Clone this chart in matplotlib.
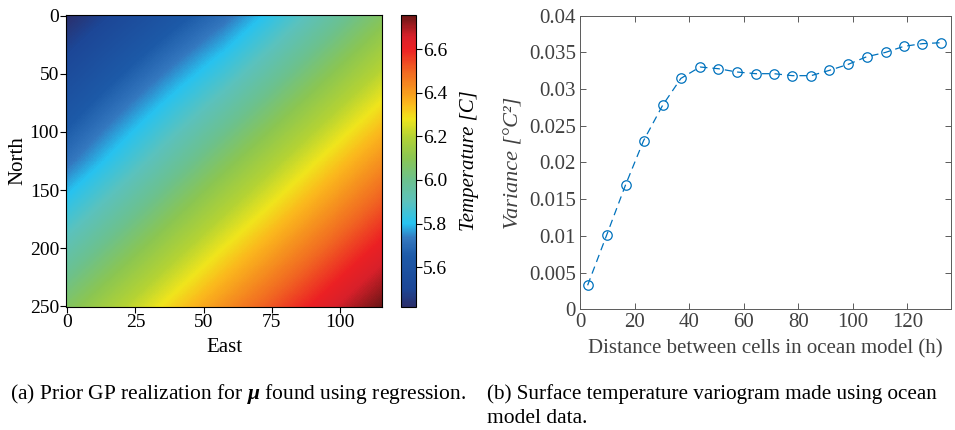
import numpy as np
import matplotlib
matplotlib.use("Agg")
import matplotlib.pyplot as plt
from matplotlib.colors import LinearSegmentedColormap

# ---- data ----
# (a) coarse temperature field (rows: north, cols: east), smoothed by imshow
north_pts = [0, 125, 250]
east_pts = [0, 57.5, 115]
temp_grid = [
    [5.42, 5.71, 6.07],
    [5.715, 6.07, 6.42],
    [6.07, 6.42, 6.75],
]
temp_ticks = [5.6, 5.8, 6.0, 6.2, 6.4, 6.6]
temp_min, temp_max = 5.417, 6.756

# (b) empirical variogram
dist_h = [2.8, 9.8, 16.7, 23.3, 30.3, 37.0, 44.0, 50.7, 57.5, 64.5,
          71.1, 77.9, 84.7, 91.4, 98.3, 105.1, 112.0, 118.7, 125.5, 132.3]
variance = [0.00327, 0.01013, 0.01694, 0.02297, 0.02779, 0.03146, 0.03301,
            0.03278, 0.03233, 0.0321, 0.0321, 0.03183, 0.03183, 0.03255,
            0.03337, 0.03441, 0.0350, 0.03582, 0.03619, 0.03632]

# colormap sampled from the colorbar
cmap_stops = [
    (0.000, "#2b2e6a"), (0.062, "#1c4797"), (0.174, "#1d5aa8"),
    (0.234, "#3478bf"), (0.286, "#27c3f0"), (0.361, "#5cc2bc"),
    (0.435, "#6cc18e"), (0.510, "#8bc652"), (0.585, "#b4d334"),
    (0.645, "#f0e51c"), (0.697, "#fbb81d"), (0.749, "#f6921f"),
    (0.809, "#f16622"), (0.884, "#ec2124"), (0.928, "#d8202a"),
    (1.000, "#6a1616"),
]
cmap = LinearSegmentedColormap.from_list("temp", cmap_stops)

plt.rcParams.update({
    "font.family": ["Liberation Serif", "DejaVu Serif"],
    "mathtext.fontset": "custom",
    "mathtext.rm": "Liberation Serif",
    "mathtext.it": "Liberation Serif:italic",
    "mathtext.bf": "Liberation Serif:italic:bold",
})

fig = plt.figure(figsize=(9.55, 4.3), dpi=100)

# ---- (a) GP realization ----
ax1 = fig.add_axes([0.0691, 0.286, 0.3309, 0.679])
dx = east_pts[1] - east_pts[0]
dy = north_pts[1] - north_pts[0]
im = ax1.imshow(np.array(temp_grid), cmap=cmap, vmin=temp_min, vmax=temp_max,
                interpolation="bilinear", interpolation_stage="data",
                extent=(east_pts[0] - dx / 2, east_pts[-1] + dx / 2,
                        north_pts[-1] + dy / 2, north_pts[0] - dy / 2),
                aspect="auto")
ax1.set_xlim(-0.5, 115.5)
ax1.set_ylim(250.5, -0.5)
ax1.set_xticks([0, 25, 50, 75, 100])
ax1.set_yticks([0, 50, 100, 150, 200, 250])
ax1.tick_params(labelsize=14, length=4, width=0.8, pad=1)
ax1.set_xlabel("East", fontsize=15, labelpad=5)
ax1.set_ylabel("North", fontsize=15, labelpad=2)

cax = fig.add_axes([0.4199, 0.286, 0.0157, 0.679])
cb = fig.colorbar(im, cax=cax, ticks=temp_ticks, format="%.1f")
cb.ax.tick_params(labelsize=14, length=4, width=0.8, pad=1)
cb.set_label("Temperature [C]", fontsize=15, style="italic", labelpad=9)
cb.outline.set_linewidth(0.8)

# ---- (b) variogram ----
gray = "#404040"
ax2 = fig.add_axes([0.6073, 0.2807, 0.3885, 0.6828])
ax2.plot(dist_h, variance, linestyle="--", dashes=(6, 4), marker="o",
         color="#0072BD", mfc="none", ms=6.8, mew=0.9, lw=0.9)
ax2.set_xlim(0, 136)
ax2.set_ylim(0, 0.04)
ax2.set_xticks([0, 20, 40, 60, 80, 100, 120])
yt = [0, 0.005, 0.01, 0.015, 0.02, 0.025, 0.03, 0.035, 0.04]
ax2.set_yticks(yt)
ax2.set_yticklabels([("%g" % v) for v in yt])
ax2.tick_params(direction="in", top=True, right=True, labelsize=15,
                length=4, width=0.6, colors=gray, labelcolor=gray, pad=3)
for s in ax2.spines.values():
    s.set_color("#5a5a5a")
    s.set_linewidth(0.7)
ax2.set_xlabel("Distance between cells in ocean model (h)", fontsize=15,
               color=gray, labelpad=5)
ax2.set_ylabel("Variance [°C²]", fontsize=16, style="italic", color=gray,
               labelpad=4)

# ---- captions ----
cap_size = 15.5
fig.text(0.0105, 0.072, r"(a) Prior GP realization for $\mathbf{\mu}$ found using regression.",
         fontsize=cap_size, va="baseline")
fig.text(0.51, 0.072, "(b) Surface temperature variogram made using ocean",
         fontsize=15.2, va="baseline")
fig.text(0.51, 0.016, "model data.", fontsize=cap_size, va="baseline")

fig.savefig("out.png", dpi=100)
